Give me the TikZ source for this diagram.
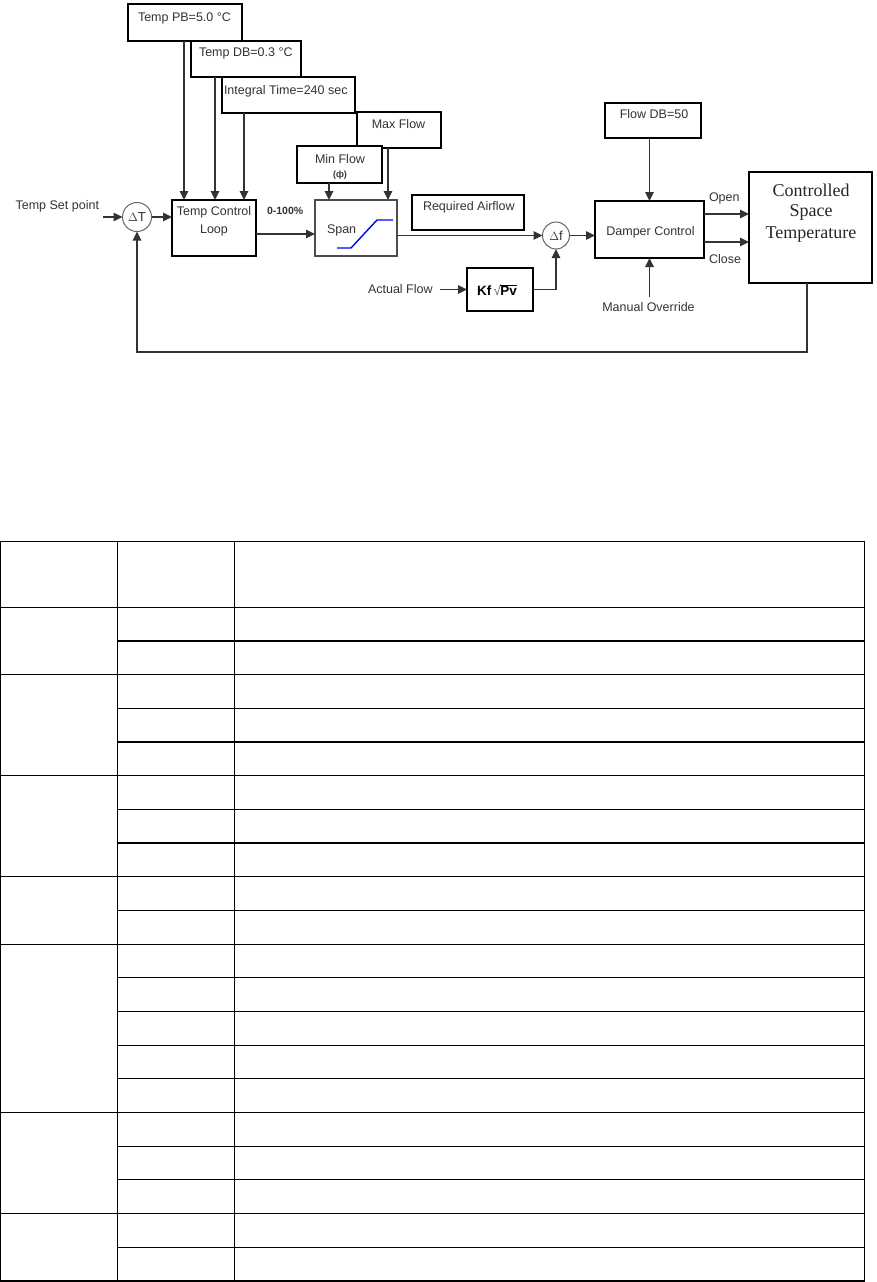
\documentclass[tikz,border=0pt]{standalone}
\usepackage{fontspec}
\setmainfont{Liberation Sans}
\newfontfamily\serifrm{Liberation Serif}
\usetikzlibrary{arrows.meta,calc}
\begin{document}
\begin{tikzpicture}[x=1pt,y=-1pt,
  box/.style={draw=black,fill=white,line width=2.8pt,inner sep=0pt,outer sep=0pt},
  thinbox/.style={draw=black!70,fill=white,line width=1.1pt,inner sep=0pt,outer sep=0pt},
  sumc/.style={circle,draw=black!60,fill=white,line width=1pt,inner sep=0pt,outer sep=0pt,text=black!80,font=\fontsize{13}{14}\selectfont},
  lbl/.style={inner sep=0pt,outer sep=0pt,text=black!80,font=\fontsize{12.5}{14}\selectfont},
  cstlbl/.style={inner sep=0pt,outer sep=0pt,text=black!85,font=\serifrm\fontsize{18}{21}\selectfont},
  arr/.style={draw=black!80,line width=1.4pt,-{Triangle[length=9pt,width=8.5pt]}},
  tline/.style={draw=black,line width=1.2pt}
]
\useasboundingbox (0,0) rectangle (876,1282);

% ---------- boxes ----------
\node[box,minimum width=114pt,minimum height=37pt] (pb) at (185,22.5) {};
\node[box,minimum width=110pt,minimum height=36pt] (db) at (246,59) {};
\node[box,minimum width=133pt,minimum height=36pt] (it) at (288.5,95) {};
\node[box,minimum width=84pt,minimum height=56pt] (tcl) at (214,228) {};
\node[thinbox,minimum width=82pt,minimum height=56pt] (span) at (356,228) {};
\node[box,minimum width=84pt,minimum height=36pt] (maxf) at (399,130) {};
\node[box,minimum width=85pt,minimum height=37pt] (minf) at (339.5,164.5) {};
\node[box,minimum width=112pt,minimum height=35pt] (req) at (468,212.5) {};
\node[box,minimum width=66pt,minimum height=43pt] (kf) at (500,289.5) {};
\node[box,minimum width=96pt,minimum height=35pt] (fdb) at (653,120.5) {};
\node[box,minimum width=109pt,minimum height=57pt] (damper) at (649.5,229.5) {};
\node[box,minimum width=123pt,minimum height=111pt] (cst) at (810.5,227.5) {};
\node[sumc,minimum size=29pt] (dT) at (137,217) {$\Delta$T};
\node[sumc,minimum size=27pt] (df) at (556,235.5) {$\Delta$f};

% ---------- texts ----------
\node[lbl,anchor=base west] (pbt) at (138,21.7) {Temp PB=5.0 °C};
\node[lbl,anchor=base west] (dbt) at (199,56.7) {Temp DB=0.3 °C};
\node[lbl,anchor=base west] (itt) at (224,94) {Integral Time=240 sec};
\node[lbl,anchor=base] (tclt1) at (214,215.7) {Temp Control};
\node[lbl,anchor=base] (tclt2) at (214,233.3) {Loop};
\node[lbl,anchor=base east] (spt) at (99,209) {Temp Set point};
\node[lbl,anchor=base west,font=\fontsize{10.5}{12}\selectfont\bfseries] (pct) at (267,214) {0-100\%};
\node[lbl,anchor=base] (minft) at (340,163.3) {Min Flow};
\node[lbl,anchor=base,font=\fontsize{9}{10}\selectfont\bfseries] (phit) at (340,177.3) {(ф)};
\node[lbl,anchor=base] (maxft) at (398.5,128.3) {Max Flow};
\node[lbl,anchor=base west] (spant) at (327,233.3) {Span};
\node[lbl,anchor=base west] (reqt) at (423,210.7) {Required Airflow};
\node[lbl,anchor=base west] (aft) at (368,293.3) {Actual Flow};
\node[lbl,anchor=base west,text=black,font=\fontsize{13.5}{15}\selectfont] (kft) at (477,295.5) {\bfseries Kf\,{\mdseries\color{black!60}√}\kern-0.5pt$\overline{\hbox{\bfseries Pv}}$};
\node[lbl,anchor=base] (fdbt) at (654,118.3) {Flow DB=50};
\node[lbl,anchor=base] (dampt) at (650.5,235.7) {Damper Control};
\node[lbl,anchor=base west] (opent) at (709,201.7) {Open};
\node[lbl,anchor=base west] (closet) at (709,263.3) {Close};
\node[lbl,anchor=base] (mot) at (648.5,311.7) {Manual Override};
\node[cstlbl,anchor=base] (cst1) at (811,196) {Controlled};
\node[cstlbl,anchor=base] (cst2) at (811,216.7) {Space};
\node[cstlbl,anchor=base] (cst3) at (811,238.3) {Temperature};

% span characteristic
\draw[blue,line width=1.4pt] (337,248) -- (351,248) -- (377,220) -- (393,220);

% ---------- connectors ----------
\draw[arr] ([xshift=-1pt]pb.south) -- ([xshift=-1pt]pb.south |- tcl.north);
\draw[arr] ([xshift=24pt]db.south west) -- ([xshift=24pt]db.south west |- tcl.north);
\draw[arr] ([xshift=22pt]it.south west) -- ([xshift=22pt]it.south west |- tcl.north);
\draw[arr] ([xshift=4pt]spt.east |- dT.west) -- (dT.west);
\draw[arr] (dT.east) -- (dT.east -| tcl.west);
\draw[arr] ([yshift=-6pt]tcl.east) -- ([yshift=-6pt]tcl.east -| span.west);
\draw[arr] ([xshift=32pt]minf.south west) -- ([xshift=32pt]minf.south west |- span.north);
\draw[arr] ([xshift=31pt]maxf.south west) -- ([xshift=31pt]maxf.south west |- span.north);
\draw[arr] (span.east |- df.west) -- (df.west);
\draw[arr] ([xshift=7pt]aft.east |- kf.west) -- (kf.west);
\draw[arr] (kf.east) -| (df.south);
\draw[arr] (df.east) -- (df.east -| damper.west);
\draw[arr] (fdb.south -| damper.north) -- (damper.north);
\draw[arr] ([yshift=6pt]mot.north -| damper.south) -- (damper.south);
\draw[arr] ([yshift=15.5pt]damper.east) -- ([yshift=15.5pt]damper.east -| cst.west);
\draw[arr] ([yshift=-12.5pt]damper.east) -- ([yshift=-12.5pt]damper.east -| cst.west);
\coordinate (fbr) at (807,352);
\draw[arr] ([xshift=-3.5pt]cst.south) -- (fbr) -| (dT.south);

% ---------- table ----------
\draw[tline] (0.5,541.7) rectangle (864.5,1281);
\draw[tline] (117.3,541.7) -- (117.3,1281);
\draw[tline] (234.7,541.7) -- (234.7,1281);
\foreach \i/\xs in {0/0.5,1/117.3,2/0.5,3/117.3,4/117.3,5/0.5,6/117.3,7/117.3,8/0.5,9/117.3,10/0.5,11/117.3,12/117.3,13/117.3,14/117.3,15/0.5,16/117.3,17/117.3,18/0.5,19/117.3}
  \draw[tline] (\xs,607.3+33.68*\i) -- (864.5,607.3+33.68*\i);
\end{tikzpicture}
\end{document}
